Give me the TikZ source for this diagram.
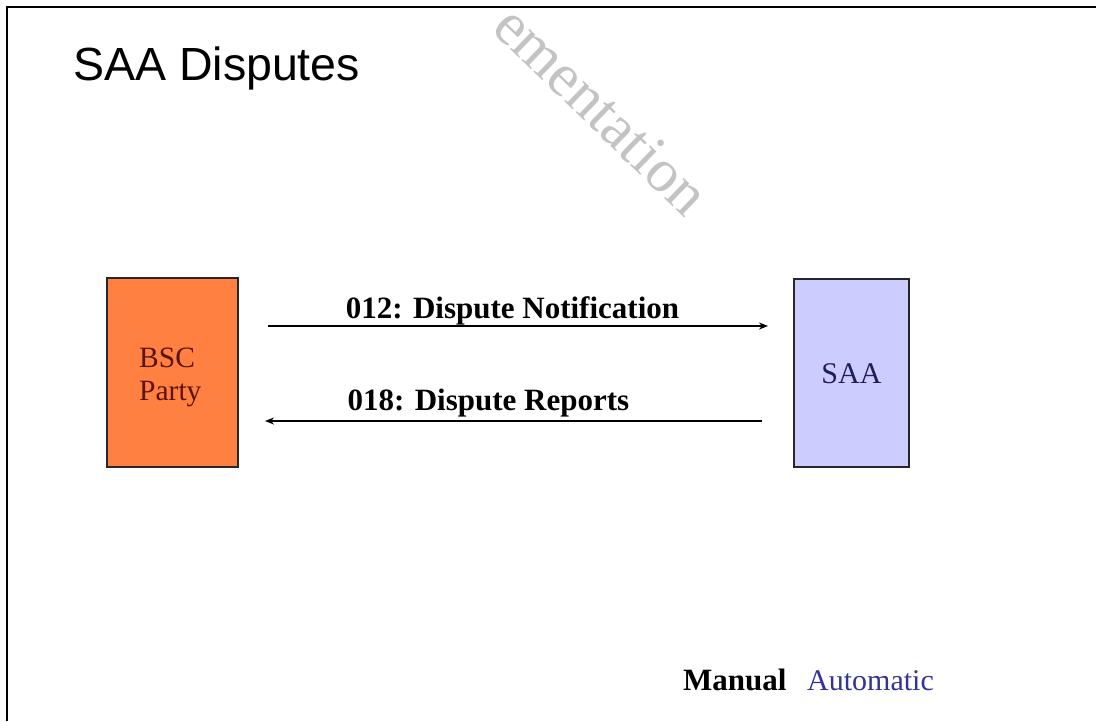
\documentclass[tikz,border=0pt]{standalone}
\usepackage{fontspec}
\setmainfont{Liberation Serif}
\newfontfamily\titlefont{Liberation Sans}
\usetikzlibrary{arrows.meta}
\definecolor{bscorange}{RGB}{255,128,64}
\definecolor{saafill}{RGB}{204,204,255}
\definecolor{bsctext}{RGB}{90,20,10}
\definecolor{saatext}{RGB}{30,30,90}
\definecolor{autoblue}{RGB}{51,51,153}
\definecolor{wmgrey}{RGB}{195,195,195}
\begin{document}
\begin{tikzpicture}[x=1pt,y=-1pt,
  frame/.style={line width=2.5pt,black},
  entity/.style={draw=black!85,line width=2pt,inner sep=0pt},
  msg/.style={line width=1.6pt,black},
  msglabel/.style={anchor=base,font=\fontsize{31}{36}\selectfont\bfseries},
  tip/.style={-{Stealth[length=9pt,width=7pt]}},
  dot/.style={{Circle[length=4pt]}-}
]
\useasboundingbox (0,0) rectangle (1096,721);
\fill[white] (0,0) rectangle (1096,721);
% watermark
\node[anchor=base west,rotate=-44,text=wmgrey,inner sep=0pt,
      font=\fontsize{61}{66}\selectfont] (wm) at (490,30) {ementation};
% frame
\draw[frame] (7,721) -- (7,7) -- (1096,7);
% title
\node[anchor=base west,inner sep=0pt,font=\titlefont\fontsize{46.5}{54}\selectfont] (title) at (73,80) {SAA Disputes};
% entities
\node[entity,fill=bscorange,minimum width=131pt,minimum height=189pt] (bsc) at (172.5,372.5) {};
\node[align=left,text=bsctext,font=\fontsize{29.5}{33}\selectfont,anchor=base west,inner sep=0pt] (bsclabel) at (139,400) {BSC\\Party};
\node[entity,fill=saafill,minimum width=115pt,minimum height=188pt] (saa) at (851.5,373) {};
\node[text=saatext,font=\fontsize{30}{33}\selectfont,anchor=base,inner sep=0pt] (saalabel) at (851.5,383) {SAA};
% connector ends
\coordinate (n1s) at (268,326);
\coordinate (n1e) at (768,326);
\coordinate (r1s) at (762,421);
\coordinate (r1e) at (265,421);
\draw[msg,dot,tip] (n1s) -- (n1e);
\draw[msg,dot,tip] (r1s) -- (r1e);
\node[msglabel] (l1) at (512.5,318) {012: Dispute Notification};
\node[msglabel] (l2) at (488.5,410) {018: Dispute Reports};
% legend
\node[anchor=base west,inner sep=0pt,font=\fontsize{31}{36}\selectfont\bfseries] (manual) at (683,690) {Manual};
\node[anchor=base west,inner sep=0pt,text=autoblue,font=\fontsize{30}{36}\selectfont] (auto) at (807,690) {Automatic};
\end{tikzpicture}
\end{document}
